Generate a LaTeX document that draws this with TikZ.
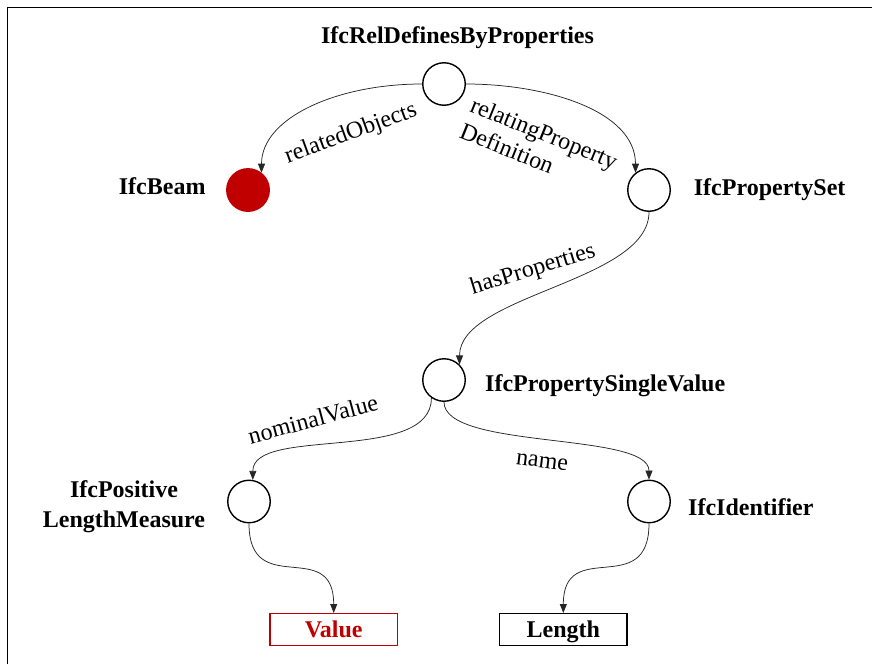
\documentclass[tikz,border=0pt]{standalone}
\usepackage{fontspec}
\setmainfont{Liberation Serif}
\usetikzlibrary{arrows.meta}
\definecolor{ifcred}{RGB}{192,0,0}
\begin{document}
\begin{tikzpicture}[x=1pt,y=-1pt,
  entity/.style={circle,draw,line width=1.4pt,minimum size=42.5pt,inner sep=0pt},
  typename/.style={font=\fontsize{24}{30}\selectfont\bfseries,inner sep=0pt},
  link/.style={draw=black!85,line width=0.75pt,-{Triangle[length=9pt,width=7pt]}},
  rolename/.style={font=\fontsize{24}{28}\selectfont,inner sep=0pt},
  valbox/.style={draw,line width=1.4pt,minimum width=127.6pt,minimum height=31.6pt,
    inner sep=0pt,text height=16pt,text depth=0pt,font=\fontsize{24}{30}\selectfont\bfseries}
]
\useasboundingbox (0,0) rectangle (872,664);
% frame lines
\draw[line width=1.3pt] (7.5,664) -- (7.5,7.5) -- (872,7.5);

% instance nodes
\node[entity] (rel) at (444,84) {};
\node[entity,fill=ifcred,draw=ifcred] (beam) at (248,190) {};
\node[entity] (ps) at (649,190) {};
\node[entity] (sv) at (444,380) {};
\node[entity] (pos) at (249,501.5) {};
\node[entity] (ident) at (649,501.5) {};
\node[valbox,draw=ifcred,text=ifcred] (value) at (333.7,629.5) {Value};
\node[valbox] (length) at (563.3,629.5) {Length};

% type names
\node[typename,anchor=base] (t-rel) at (457.5,43.5) {IfcRelDefinesByProperties};
\node[typename,anchor=base east] (t-beam) at (205.7,194.3) {IfcBeam};
\node[typename,anchor=base west] (t-ps) at (693.7,195) {IfcPropertySet};
\node[typename,anchor=base west] (t-sv) at (485,391.5) {IfcPropertySingleValue};
\node[typename,anchor=base west] (t-ident) at (688,515) {IfcIdentifier};
\node[typename,align=center] (t-pos) at (124,507) {IfcPositive\\LengthMeasure};

% relations
\draw[link] (rel.west) .. controls +(-85,0) and +(0,-55) .. (beam.52);
\draw[link] (rel.east) .. controls +(80,0) and +(0,-62) .. (ps.128);
\draw[link] (ps.south) .. controls +(0,70) and +(0,-70) .. (sv.45);
\draw[link] (sv.-125) .. controls +(0,66) and +(0,-54) .. (pos.80);
\draw[link] (sv.south) .. controls +(0,48) and +(0,-48) .. (ident.north);
\draw[link] (pos.south) .. controls +(0,77) and +(0,-77) .. (value.north);
\draw[link] (ident.south) .. controls +(0,77) and +(0,-77) .. (length.north);

% relation names
\node[rolename,rotate=20] (l-obj) at (351,134) {relatedObjects};
\node[rolename,rotate=-22,align=left] (l-def) at (539,146) {relatingProperty\\Definition};
\node[rolename,rotate=17] (l-has) at (533,270) {hasProperties};
\node[rolename,rotate=15] (l-nom) at (313,419) {nominalValue};
\node[rolename,rotate=-7] (l-name) at (542,462) {name};
\end{tikzpicture}
\end{document}
